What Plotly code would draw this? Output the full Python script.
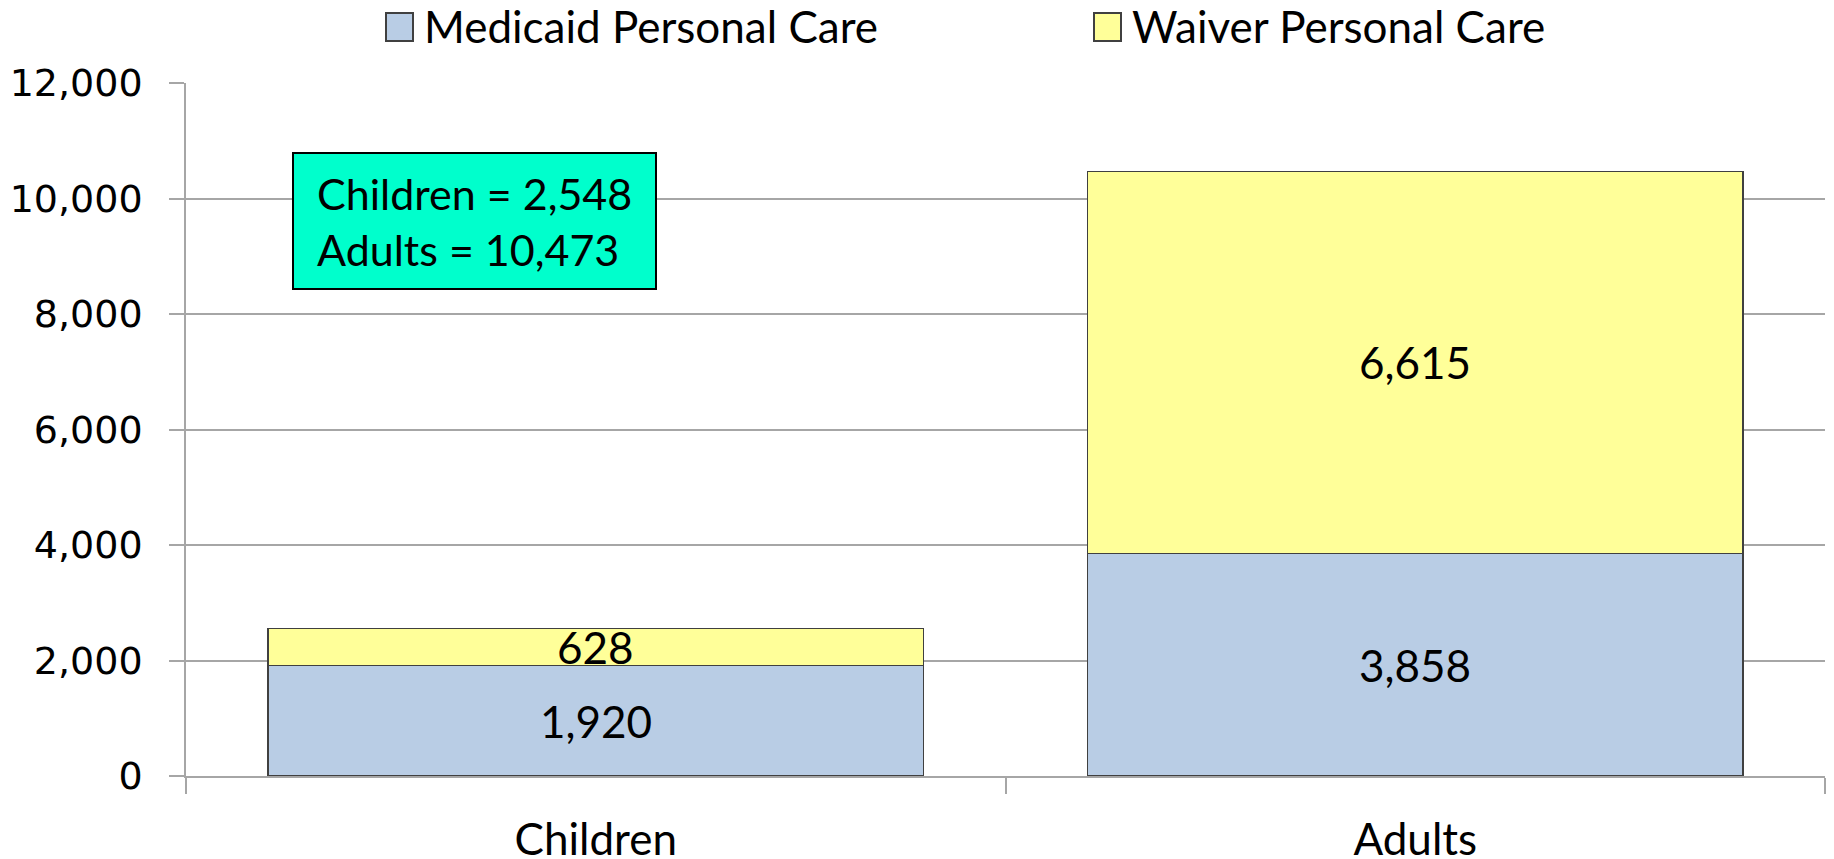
import plotly.graph_objects as go

categories = ["Children", "Adults"]
medicaid = [1920, 3858]
waiver = [628, 6615]
series_names = ["Medicaid Personal Care", "Waiver Personal Care"]
box_lines = ["Children = 2,548", "Adults = 10,473"]
y_ticks = [0, 2000, 4000, 6000, 8000, 10000, 12000]

FONT = "Lato"
GRID = "#A6A6A6"
COLORS = ["#B9CDE5", "#FFFF99"]
EDGE = "#404040"

# page has an 8px body margin: figure is drawn 8px right/down
W, H = 1826, 851
L, T, R, B = 178, 75, 9, 83
PW, PH = W - L - R, H - T - B


def px_x(xp):  # page x -> paper
    return (xp - 8 - L) / PW


def px_y(yp):  # page y -> paper
    return 1 - (yp - 8 - T) / PH


fig = go.Figure()
for vals, name, col in zip([medicaid, waiver], series_names, COLORS):
    fig.add_trace(go.Bar(x=categories, y=vals, name=name, showlegend=False,
                         marker=dict(color=col, line=dict(color=EDGE, width=1.2))))
for name, col in zip(series_names, COLORS):
    fig.add_trace(go.Scatter(x=[None], y=[None], mode="markers", name=name,
                             marker=dict(symbol="square", size=16, color=col,
                                         line=dict(color=col, width=0))))

# larger swatches behind the legend symbols
ENTRY = 708
for i, col in enumerate(COLORS):
    x0 = 386 + i * ENTRY
    fig.add_shape(type="rect", xref="paper", yref="paper",
                  x0=px_x(x0), x1=px_x(x0 + 27), y0=px_y(41), y1=px_y(13),
                  fillcolor=col, line=dict(color=EDGE, width=2), layer="above")

for c, m, w in zip(categories, medicaid, waiver):
    fig.add_annotation(x=c, y=m / 2, text=f"{m:,}", showarrow=False,
                       font=dict(family=FONT, size=44, color="black"))
    fig.add_annotation(x=c, y=m + w / 2, text=f"{w:,}", showarrow=False,
                       font=dict(family=FONT, size=44, color="black"))

# text box
fig.add_shape(type="rect", xref="paper", yref="paper",
              x0=px_x(293), x1=px_x(656), y0=px_y(289), y1=px_y(153),
              fillcolor="#00FFCC", line=dict(color="black", width=2), layer="above")
fig.add_annotation(x=px_x(315), y=px_y(221), xref="paper", yref="paper",
                   xanchor="left", yanchor="middle", text="<br>".join(box_lines),
                   showarrow=False, align="left",
                   font=dict(family=FONT, size=43, color="black"))

fig.update_layout(
    barmode="stack", bargap=0.2,
    width=W, height=H,
    plot_bgcolor="white", paper_bgcolor="white",
    margin=dict(l=L, t=T, r=R, b=B, autoexpand=False),
    font=dict(family=FONT, size=44, color="black"),
    legend=dict(orientation="h", xref="container", yref="container",
                x=376 / W, y=1 - 18.7 / H, xanchor="left", yanchor="middle",
                entrywidth=ENTRY - 45, entrywidthmode="pixels",
                bgcolor="rgba(0,0,0,0)",
                font=dict(family=FONT, size=44), traceorder="normal"),
    xaxis=dict(range=[-0.5, 1.5], showline=True, linecolor=GRID, linewidth=1.5,
               ticks="outside", tickson="boundaries", ticklen=16, tickcolor=GRID,
               tickwidth=1.5, showgrid=False, ticklabelstandoff=24,
               tickfont=dict(family=FONT, size=44)),
    yaxis=dict(range=[0, 12000], tickvals=y_ticks, tickformat=",d",
               showline=True, linecolor=GRID, linewidth=1.5,
               showgrid=True, gridcolor=GRID, gridwidth=1.5,
               ticks="outside", ticklen=15, tickcolor=GRID, tickwidth=1.5,
               ticklabelstandoff=19, zeroline=False,
               tickfont=dict(family="DejaVu Sans", size=38)),
)

fig.write_html("out.html")
